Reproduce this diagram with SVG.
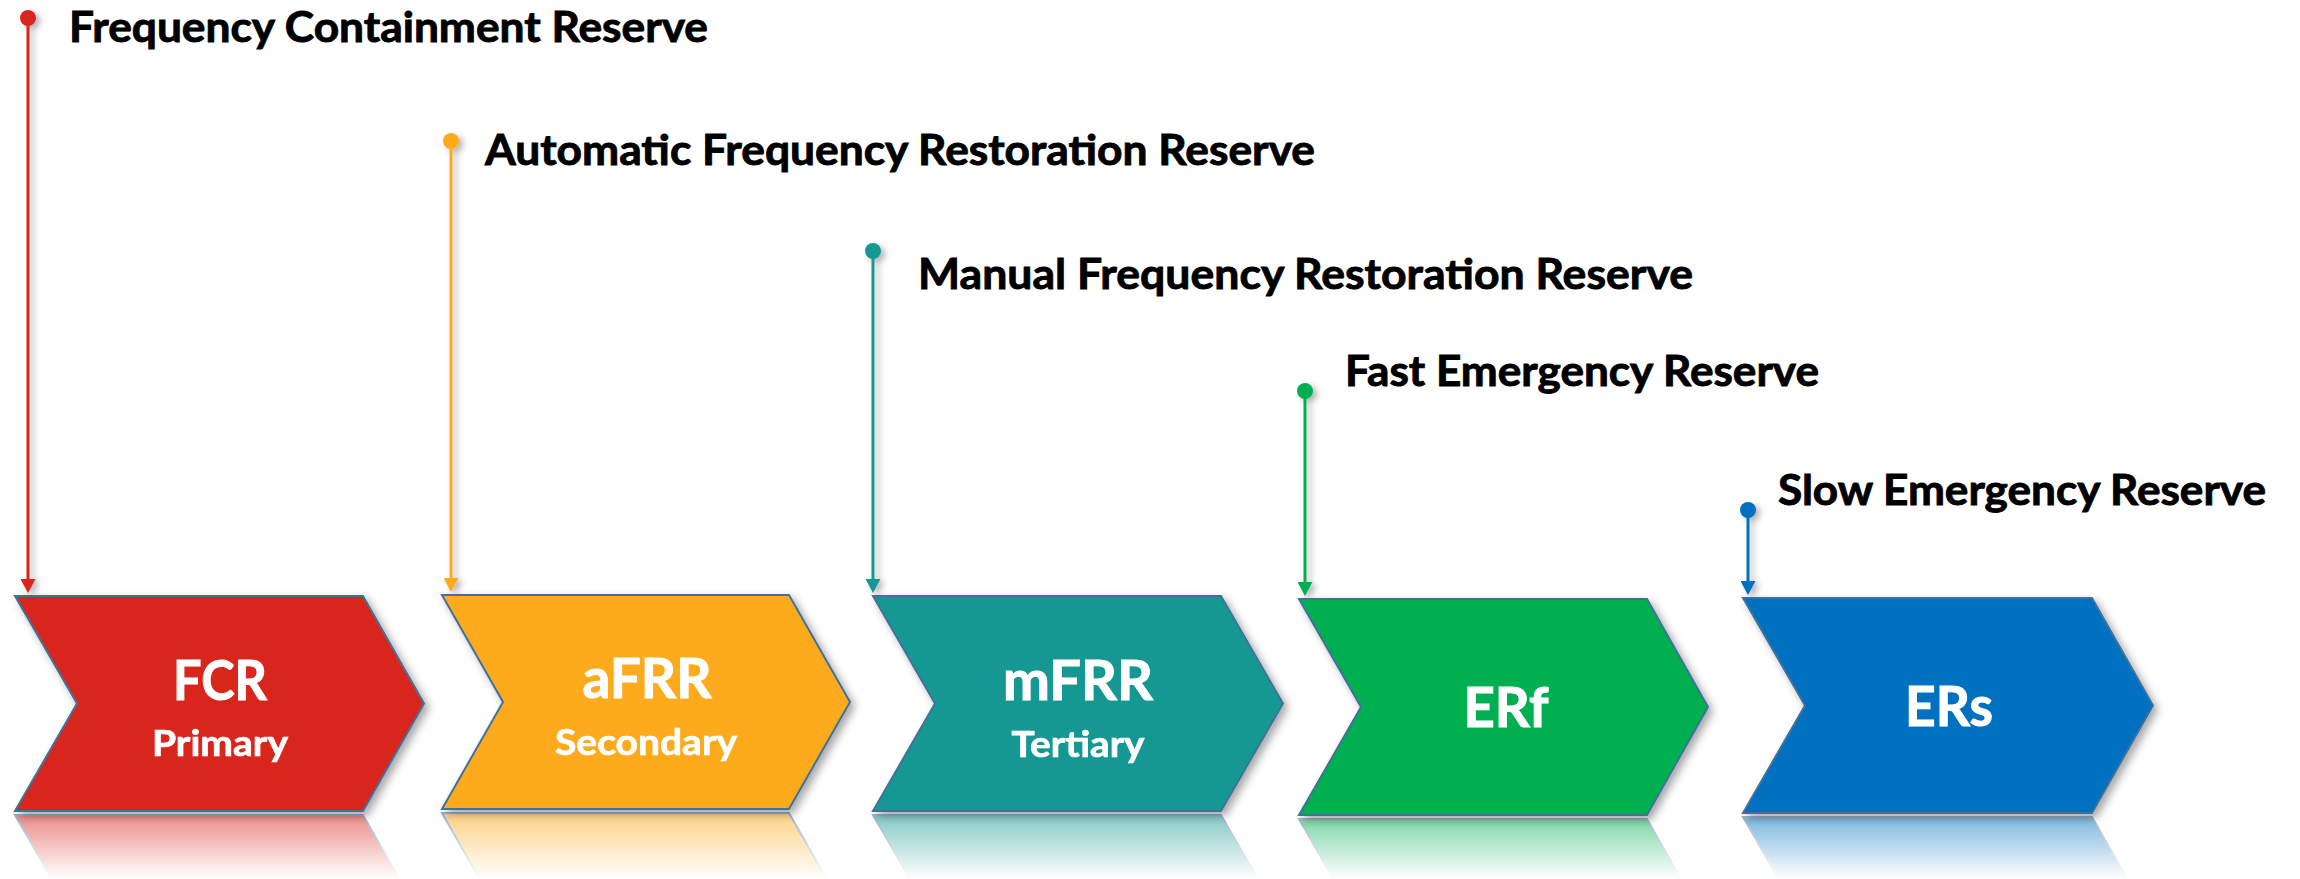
<svg xmlns="http://www.w3.org/2000/svg" xmlns:xlink="http://www.w3.org/1999/xlink" width="2300" height="879" viewBox="0 0 2300 879">
  <style>
    .lbl { font-family: Lato, "Open Sans", "Liberation Sans", sans-serif; font-weight: 700; font-size: 42.5px; fill: #000; stroke: #000; stroke-width: 0.9; }
    .big { font-family: Lato, "Open Sans", "Liberation Sans", sans-serif; font-weight: 700; font-size: 55px; fill: #fff; stroke: #fff; stroke-width: 1; text-anchor: middle; }
    .sub { font-family: Lato, "Open Sans", "Liberation Sans", sans-serif; font-weight: 700; font-size: 37px; fill: #fff; stroke: #fff; stroke-width: 0.7; text-anchor: middle; }
    .chev { stroke: #41719C; stroke-width: 2; stroke-linejoin: miter; }
    .conn { fill: none; stroke-width: 3; }
  </style>
  <defs>
    <filter id="shadow" x="-10%" y="-10%" width="130%" height="130%">
      <feDropShadow dx="4" dy="4" stdDeviation="4" flood-color="#000" flood-opacity="0.35"/>
    </filter>
    <filter id="lshadow" x="-200%" y="-5%" width="500%" height="110%">
      <feDropShadow dx="4" dy="3" stdDeviation="3" flood-color="#000" flood-opacity="0.3"/>
    </filter>
    <linearGradient id="fade" gradientUnits="userSpaceOnUse" x1="0" y1="812" x2="0" y2="879">
      <stop offset="0" stop-color="#fff" stop-opacity="0.55"/>
      <stop offset="1" stop-color="#fff" stop-opacity="0"/>
    </linearGradient>
    <mask id="reflmask" maskUnits="userSpaceOnUse" x="0" y="800" width="2300" height="79">
      <rect x="0" y="800" width="2300" height="79" fill="url(#fade)"/>
    </mask>
    <marker id="aRed" viewBox="0 0 14 15" refX="4" refY="7.5" markerWidth="14" markerHeight="15" markerUnits="userSpaceOnUse" orient="auto"><path d="M0,0 L14,7.5 L0,15 z" fill="#D9261C"/></marker>
    <marker id="aOrange" viewBox="0 0 14 15" refX="4" refY="7.5" markerWidth="14" markerHeight="15" markerUnits="userSpaceOnUse" orient="auto"><path d="M0,0 L14,7.5 L0,15 z" fill="#FDAA1E"/></marker>
    <marker id="aTeal" viewBox="0 0 14 15" refX="4" refY="7.5" markerWidth="14" markerHeight="15" markerUnits="userSpaceOnUse" orient="auto"><path d="M0,0 L14,7.5 L0,15 z" fill="#179892"/></marker>
    <marker id="aGreen" viewBox="0 0 14 15" refX="4" refY="7.5" markerWidth="14" markerHeight="15" markerUnits="userSpaceOnUse" orient="auto"><path d="M0,0 L14,7.5 L0,15 z" fill="#00AF50"/></marker>
    <marker id="aBlue" viewBox="0 0 14 15" refX="4" refY="7.5" markerWidth="14" markerHeight="15" markerUnits="userSpaceOnUse" orient="auto"><path d="M0,0 L14,7.5 L0,15 z" fill="#0070C0"/></marker>
    <marker id="dRed" viewBox="0 0 18 18" refX="9" refY="9" markerWidth="18" markerHeight="18" markerUnits="userSpaceOnUse"><circle cx="9" cy="9" r="8" fill="#D9261C"/></marker>
    <marker id="dOrange" viewBox="0 0 18 18" refX="9" refY="9" markerWidth="18" markerHeight="18" markerUnits="userSpaceOnUse"><circle cx="9" cy="9" r="8" fill="#FDAA1E"/></marker>
    <marker id="dTeal" viewBox="0 0 18 18" refX="9" refY="9" markerWidth="18" markerHeight="18" markerUnits="userSpaceOnUse"><circle cx="9" cy="9" r="8" fill="#179892"/></marker>
    <marker id="dGreen" viewBox="0 0 18 18" refX="9" refY="9" markerWidth="18" markerHeight="18" markerUnits="userSpaceOnUse"><circle cx="9" cy="9" r="8" fill="#00AF50"/></marker>
    <marker id="dBlue" viewBox="0 0 18 18" refX="9" refY="9" markerWidth="18" markerHeight="18" markerUnits="userSpaceOnUse"><circle cx="9" cy="9" r="8" fill="#0070C0"/></marker>
    <polygon id="shp-fcr" class="chev" fill="#D9261C" points="15,596 363,596 424,703.5 363,811 15,811 77,703.5"/>
    <polygon id="shp-afrr" class="chev" fill="#FDAA1E" points="442,595 789,595 850,702 789,809 442,809 503,702"/>
    <polygon id="shp-mfrr" class="chev" fill="#179892" points="873,596 1221,596 1283,703.5 1221,811 873,811 935,703.5"/>
    <polygon id="shp-erf" class="chev" fill="#00AF50" points="1299,599 1647,599 1708,707 1647,815 1299,815 1361,707"/>
    <polygon id="shp-ers" class="chev" fill="#0070C0" points="1743,598 2092,598 2153,705.5 2092,813 1743,813 1805,705.5"/>
  </defs>

  <rect width="2300" height="879" fill="#fff"/>

  <!-- reflections -->
  <g id="reflections" mask="url(#reflmask)">
    <use xlink:href="#shp-fcr" href="#shp-fcr" transform="translate(0,1626) scale(1,-1)"/>
    <use xlink:href="#shp-afrr" href="#shp-afrr" transform="translate(0,1622) scale(1,-1)"/>
    <use xlink:href="#shp-mfrr" href="#shp-mfrr" transform="translate(0,1626) scale(1,-1)"/>
    <use xlink:href="#shp-erf" href="#shp-erf" transform="translate(0,1634) scale(1,-1)"/>
    <use xlink:href="#shp-ers" href="#shp-ers" transform="translate(0,1630) scale(1,-1)"/>
  </g>

  <!-- connectors -->
  <g id="connectors" filter="url(#lshadow)">
    <path class="conn" stroke="#D9261C" d="M28,18 V583" marker-start="url(#dRed)" marker-end="url(#aRed)"/>
    <path class="conn" stroke="#FDAA1E" d="M451,141 V582" marker-start="url(#dOrange)" marker-end="url(#aOrange)"/>
    <path class="conn" stroke="#179892" d="M873,251 V583" marker-start="url(#dTeal)" marker-end="url(#aTeal)"/>
    <path class="conn" stroke="#00AF50" d="M1305,391 V586" marker-start="url(#dGreen)" marker-end="url(#aGreen)"/>
    <path class="conn" stroke="#0070C0" d="M1748,510 V585" marker-start="url(#dBlue)" marker-end="url(#aBlue)"/>
  </g>

  <!-- labels -->
  <g id="labels">
    <text class="lbl" x="69" y="42" textLength="639" lengthAdjust="spacingAndGlyphs">Frequency Containment Reserve</text>
    <text class="lbl" x="485" y="165" textLength="830" lengthAdjust="spacingAndGlyphs">Automatic Frequency Restoration Reserve</text>
    <text class="lbl" x="918" y="289" textLength="775" lengthAdjust="spacingAndGlyphs">Manual Frequency Restoration Reserve</text>
    <text class="lbl" x="1345" y="386" textLength="474" lengthAdjust="spacingAndGlyphs">Fast Emergency Reserve</text>
    <text class="lbl" x="1778" y="505" textLength="488" lengthAdjust="spacingAndGlyphs">Slow Emergency Reserve</text>
  </g>

  <!-- nodes -->
  <g id="node-fcr">
    <use xlink:href="#shp-fcr" href="#shp-fcr" filter="url(#shadow)"/>
    <text class="big" x="220" y="700" textLength="94" lengthAdjust="spacingAndGlyphs">FCR</text>
    <text class="sub" x="220" y="756" textLength="136" lengthAdjust="spacingAndGlyphs">Primary</text>
  </g>
  <g id="node-afrr">
    <use xlink:href="#shp-afrr" href="#shp-afrr" filter="url(#shadow)"/>
    <text class="big" x="647" y="698" textLength="129" lengthAdjust="spacingAndGlyphs">aFRR</text>
    <text class="sub" x="646" y="755" textLength="182" lengthAdjust="spacingAndGlyphs">Secondary</text>
  </g>
  <g id="node-mfrr">
    <use xlink:href="#shp-mfrr" href="#shp-mfrr" filter="url(#shadow)"/>
    <text class="big" x="1078" y="700" textLength="150" lengthAdjust="spacingAndGlyphs">mFRR</text>
    <text class="sub" x="1078" y="757" textLength="133" lengthAdjust="spacingAndGlyphs">Tertiary</text>
  </g>
  <g id="node-erf">
    <use xlink:href="#shp-erf" href="#shp-erf" filter="url(#shadow)"/>
    <text class="big" x="1506" y="727" textLength="85" lengthAdjust="spacingAndGlyphs">ERf</text>
  </g>
  <g id="node-ers">
    <use xlink:href="#shp-ers" href="#shp-ers" filter="url(#shadow)"/>
    <text class="big" x="1949" y="726" textLength="88" lengthAdjust="spacingAndGlyphs">ERs</text>
  </g>
</svg>
